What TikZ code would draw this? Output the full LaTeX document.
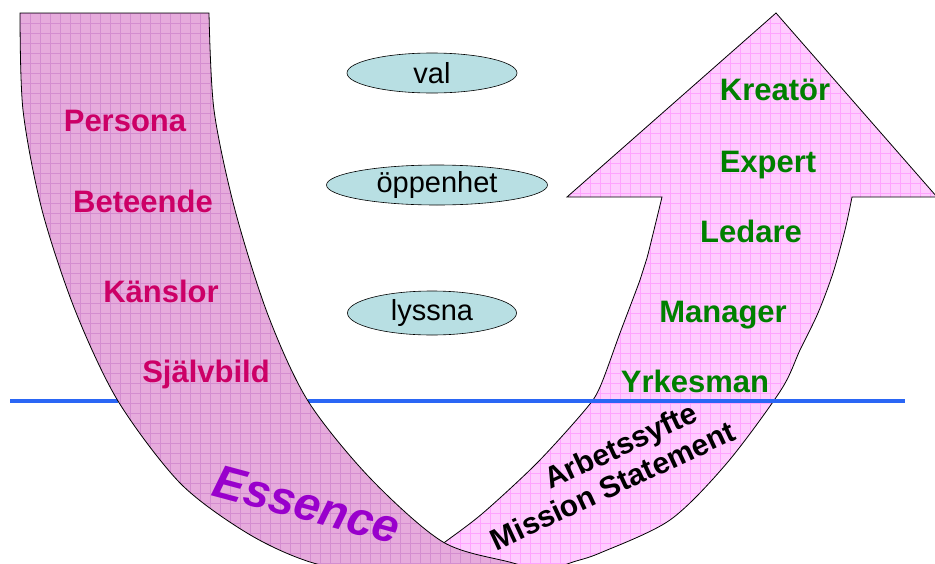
\documentclass[tikz,border=0pt]{standalone}
\usepackage{fontspec}
\setmainfont{Liberation Sans}
\usetikzlibrary{shapes.geometric}
\definecolor{bandfill}{HTML}{E6ABDC}
\definecolor{bandgrid}{HTML}{D48DD0}
\definecolor{arrowfill}{HTML}{FFCCFF}
\definecolor{arrowgrid}{HTML}{FFA3FF}
\definecolor{valuefill}{HTML}{B8DFE3}
\definecolor{innerpink}{HTML}{CC0066}
\definecolor{rolegreen}{HTML}{008000}
\definecolor{essencepurple}{HTML}{9900CC}
\definecolor{levelblue}{HTML}{2A66F5}
\begin{document}
\begin{tikzpicture}
  [x=1pt,y=-1pt,
   inner/.style={text=innerpink,font=\bfseries\fontsize{31}{37}\selectfont,anchor=base},
   role/.style={text=rolegreen,font=\bfseries\fontsize{31}{37}\selectfont,anchor=base},
   value/.style={ellipse,draw,line width=0.6pt,fill=valuefill,inner sep=0pt,
     minimum height=40pt,font=\fontsize{29}{34}\selectfont},
   purpose/.style={font=\bfseries\fontsize{30}{36}\selectfont,anchor=base,rotate=25},
   gridded/.style={path picture={
     \foreach \gx in {0,10,...,940} \draw[#1,line width=0.45pt] (\gx,0) -- (\gx,570);
     \foreach \gy in {3,13,...,573} \draw[#1,line width=0.45pt] (0,\gy) -- (940,\gy);}}]
  \useasboundingbox (0,0) rectangle (935,563);
  \clip (0,0) rectangle (935,563);
  % rising arrow
  \filldraw[draw=black,line width=0.8pt,fill=arrowfill,gridded=arrowgrid]
    (776,13) -- (937,197) -- (852,197)
    -- plot[smooth] coordinates {(852,197) (845,230) (833,273) (818,313) (800,350) (781,390) (727,463) (670,520) (600,553) (570,563) (530,578)}
    -- plot[smooth] coordinates {(400,578) (420,560) (445,542) (483,513) (537,463) (585,410) (600,387) (620,333) (640,280) (647,258) (662,197)}
    -- (567,197) -- cycle;
  \draw[levelblue,line width=3.5pt] (10,401) -- (118,401);
  \draw[levelblue,line width=3.5pt] (308,401) -- (905,401);
  % falling band
  \filldraw[draw=black,line width=0.8pt,fill=bandfill,gridded=bandgrid]
    plot[smooth] coordinates {(20,13) (23,110) (42,210) (75,310) (118,401) (180,483) (247,533) (310,562) (400,582)}
    -- plot[smooth] coordinates {(575,580) (513,563) (443,542) (370,478) (308,401) (268,315) (235,210) (214,110) (209,13)}
    -- cycle;
  \node[inner] (persona) at (125,131) {Persona};
  \node[inner] (beteende) at (143,212) {Beteende};
  \node[inner] (kanslor) at (161,302) {Känslor};
  \node[inner] (sjalvbild) at (206,382) {Självbild};
  \node[role] (kreator) at (775,100) {Kreatör};
  \node[role] (expert) at (768,172) {Expert};
  \node[role] (ledare) at (751,242) {Ledare};
  \node[role] (manager) at (723,322) {Manager};
  \node[role] (yrkesman) at (695,392) {Yrkesman};
  \node[value,minimum width=170pt] (val) at (432,73) {val};
  \node[value,minimum width=221pt] (oppenhet) at (437,185) {öppenhet};
  \node[value,minimum width=169pt,minimum height=44pt] (lyssna) at (432,313) {lyssna};
  \node[text=essencepurple,font=\bfseries\itshape\fontsize{47}{56}\selectfont,
    anchor=base,rotate=-15] (essence) at (303,520) {Essence};
  \node[purpose] (arbetssyfte) at (625,455) {Arbetssyfte};
  \node[purpose] (mission) at (617,495) {Mission Statement};
\end{tikzpicture}
\end{document}
